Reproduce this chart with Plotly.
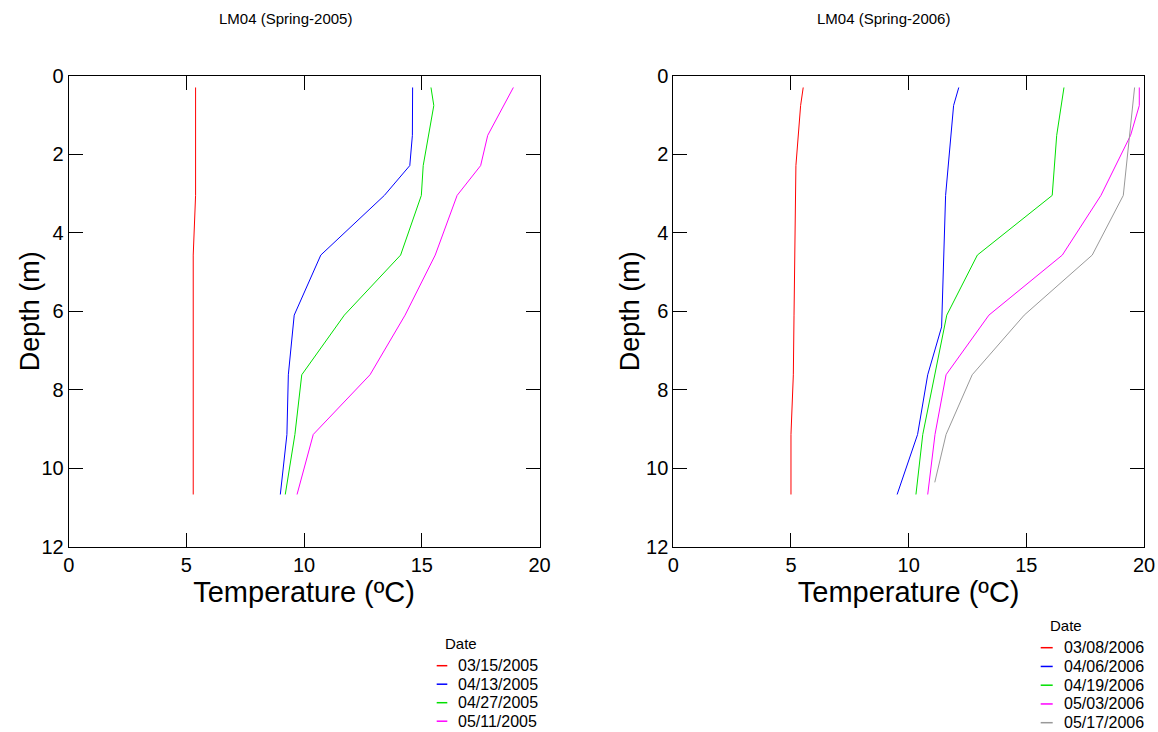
import plotly.graph_objects as go

W, H = 1158, 732
FONT = "Liberation Sans, Arial, Helvetica, sans-serif"

# ---- Spring 2005 profiles (depth in m, temperature in degC) ----
dates_2005 = ["03/15/2005", "04/13/2005", "04/27/2005", "05/11/2005"]
colors_2005 = ["#ff0000", "#0000ff", "#00e000", "#ff00ff"]

depth_20050315 = [0.30, 1.52, 3.05, 4.57, 6.10, 7.62, 9.14, 10.67]
temp_20050315 = [5.39, 5.39, 5.39, 5.29, 5.29, 5.29, 5.29, 5.29]

depth_20050413 = [0.30, 1.52, 2.29, 3.05, 4.57, 6.10, 7.62, 9.14, 10.67]
temp_20050413 = [14.61, 14.60, 14.49, 13.41, 10.71, 9.58, 9.33, 9.27, 8.99]

depth_20050427 = [0.30, 0.76, 2.29, 3.05, 4.57, 6.10, 7.62, 9.14, 10.67]
temp_20050427 = [15.39, 15.51, 15.06, 14.98, 14.10, 11.71, 9.90, 9.61, 9.20]

depth_20050511 = [0.30, 1.52, 2.29, 3.05, 4.57, 6.10, 7.62, 9.14, 10.67]
temp_20050511 = [18.89, 17.80, 17.50, 16.50, 15.57, 14.29, 12.80, 10.39, 9.70]

# ---- Spring 2006 profiles ----
dates_2006 = ["03/08/2006", "04/06/2006", "04/19/2006", "05/03/2006", "05/17/2006"]
colors_2006 = ["#ff0000", "#0000ff", "#00e000", "#ff00ff", "#999999"]

depth_20060308 = [0.30, 0.76, 2.29, 3.05, 4.57, 6.10, 7.62, 9.14, 10.67]
temp_20060308 = [5.52, 5.41, 5.21, 5.20, 5.17, 5.13, 5.10, 5.00, 5.00]

depth_20060406 = [0.30, 0.76, 3.05, 6.10, 6.40, 7.62, 9.14, 10.67]
temp_20060406 = [12.13, 11.91, 11.57, 11.43, 11.40, 10.81, 10.38, 9.51]

depth_20060419 = [0.30, 1.52, 3.05, 4.57, 6.10, 7.62, 9.14, 10.67]
temp_20060419 = [16.60, 16.29, 16.10, 12.92, 11.62, 11.11, 10.60, 10.31]

depth_20060503 = [0.30, 0.76, 1.52, 3.05, 4.57, 6.10, 7.62, 9.14, 10.67]
temp_20060503 = [19.80, 19.80, 19.43, 18.17, 16.53, 13.41, 11.59, 11.12, 10.81]

depth_20060517 = [0.30, 3.05, 4.57, 6.10, 7.62, 9.14, 10.36]
temp_20060517 = [19.60, 19.12, 17.80, 14.91, 12.70, 11.59, 11.11]

panels = [
    dict(title="LM04 (Spring-2005)", xa="x", ya="y", dates=dates_2005, colors=colors_2005,
         depths=[depth_20050315, depth_20050413, depth_20050427, depth_20050511],
         temps=[temp_20050315, temp_20050413, temp_20050427, temp_20050511]),
    dict(title="LM04 (Spring-2006)", xa="x2", ya="y2", dates=dates_2006, colors=colors_2006,
         depths=[depth_20060308, depth_20060406, depth_20060419, depth_20060503, depth_20060517],
         temps=[temp_20060308, temp_20060406, temp_20060419, temp_20060503, temp_20060517]),
]

# panel frame positions in pixels: (left, right) ; shared top/bottom
frames_px = [(68.7, 539.5), (673.3, 1144.0)]
top_px, bottom_px = 75.7, 546.7
title_x_px = [285.0, 883.0]
ytitle_x_px = [30.0, 630.0]
# legend placement in pixels: swatch x0, x1, text x, title x, title y, first row y, row step
legends_px = [
    (436.7, 447.3, 456.0, 443.0, 643.0, 665.7, 18.5),
    (1040.7, 1052.7, 1061.7, 1048.0, 625.0, 647.7, 18.75),
]

fig = go.Figure()
annotations = []
shapes = []

for p, (fl, fr), lg, ttl_x, yt_x in zip(panels, frames_px, legends_px, title_x_px, ytitle_x_px):
    for name, color, d, t in zip(p["dates"], p["colors"], p["depths"], p["temps"]):
        fig.add_trace(go.Scatter(
            x=t, y=d, mode="lines", name=name, xaxis=p["xa"], yaxis=p["ya"],
            line=dict(color=color, width=1), showlegend=False,
        ))
    # panel title
    annotations.append(dict(
        text=p["title"], xref="paper", yref="paper",
        x=ttl_x / W, y=1 - 18 / H, xanchor="center", yanchor="middle",
        showarrow=False, font=dict(family=FONT, size=15, color="#000"),
    ))
    # depth axis title
    annotations.append(dict(
        text="Depth (m)", xref="paper", yref="paper", textangle=-90,
        x=yt_x / W, y=1 - ((top_px + bottom_px) / 2) / H,
        xanchor="center", yanchor="middle", showarrow=False,
        font=dict(family=FONT, size=27, color="#000"),
    ))
    # legend
    sx0, sx1, tx, ttx, tty, ry0, step = lg
    annotations.append(dict(
        text="Date", xref="paper", yref="paper", x=ttx / W, y=1 - tty / H,
        xanchor="left", yanchor="middle", showarrow=False,
        font=dict(family=FONT, size=15, color="#000"),
    ))
    for i, (name, color) in enumerate(zip(p["dates"], p["colors"])):
        yy = 1 - (ry0 + i * step) / H
        shapes.append(dict(type="line", xref="paper", yref="paper",
                           x0=sx0 / W, x1=sx1 / W, y0=yy, y1=yy,
                           line=dict(color=color, width=1.5)))
        annotations.append(dict(
            text=name, xref="paper", yref="paper", x=tx / W, y=yy,
            xanchor="left", yanchor="middle", showarrow=False,
            font=dict(family=FONT, size=16, color="#000"),
        ))

common_x = dict(
    range=[0, 20], tickvals=[0, 5, 10, 15, 20], ticks="inside", ticklen=14,
    tickcolor="#000", showline=True, linecolor="#000", linewidth=1, mirror="ticks",
    showgrid=False, zeroline=False, tickfont=dict(family=FONT, size=20, color="#000"),
    title=dict(text="Temperature (ºC)", font=dict(family=FONT, size=29, color="#000"), standoff=6),
    fixedrange=True, automargin=False,
)
common_y = dict(
    range=[12, 0], tickvals=[0, 2, 4, 6, 8, 10, 12], ticks="inside", ticklen=14,
    tickcolor="#000", showline=True, linecolor="#000", linewidth=1, mirror="ticks",
    showgrid=False, zeroline=False, tickfont=dict(family=FONT, size=20, color="#000"),
    fixedrange=True, automargin=False,
)

ydom = [1 - bottom_px / H, 1 - top_px / H]
fig.update_layout(
    template="none",
    width=W, height=H, margin=dict(l=0, r=0, t=0, b=0, pad=0),
    paper_bgcolor="white", plot_bgcolor="white",
    font=dict(family=FONT, color="#000"),
    xaxis=dict(common_x, domain=[frames_px[0][0] / W, frames_px[0][1] / W], anchor="y"),
    yaxis=dict(common_y, domain=ydom, anchor="x"),
    xaxis2=dict(common_x, domain=[frames_px[1][0] / W, frames_px[1][1] / W], anchor="y2"),
    yaxis2=dict(common_y, domain=ydom, anchor="x2"),
    annotations=annotations, shapes=shapes, showlegend=False,
)

fig.write_html("out.html")
